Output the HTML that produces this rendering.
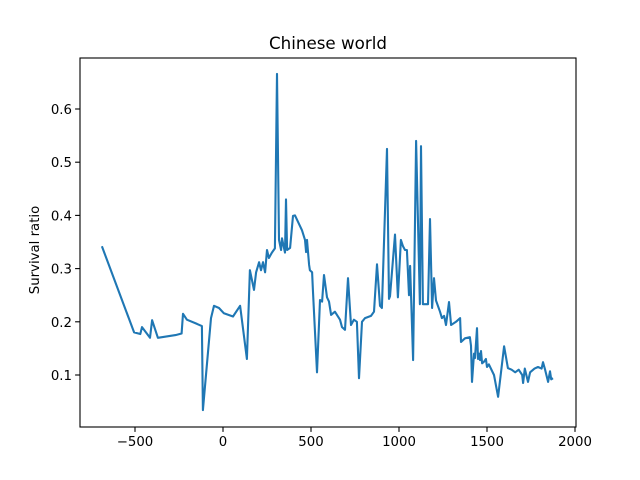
<!DOCTYPE html>
<html><head><meta charset="utf-8"><style>
body{margin:0;background:#fff;}
svg{display:block;font-family:"DejaVu Sans","Liberation Sans",sans-serif;}
</style></head><body>
<svg id="chart" width="640" height="480"></svg>
<script>
const years=[-688,-505,-470,-460,-415,-403,-370,-270,-235,-227,-205,-148,-120,-114,-68,-51,-23,5,57,97,136,153,176,188,205,216,227,239,250,261,278,295,307,318,330,335,352,358,364,381,398,409,449,466,472,477,489,494,506,511,534,551,563,574,591,602,614,636,665,676,693,710,727,744,761,773,790,807,841,858,875,892,903,932,943,949,977,994,1011,1023,1034,1045,1057,1063,1080,1085,1097,1119,1125,1136,1165,1176,1188,1199,1210,1233,1244,1256,1267,1284,1296,1324,1347,1352,1375,1403,1409,1415,1426,1432,1443,1449,1455,1460,1466,1472,1483,1494,1500,1511,1540,1563,1597,1619,1640,1660,1680,1700,1705,1715,1733,1745,1770,1790,1810,1818,1830,1847,1858,1865,1875];
const ratios=[0.342,0.18,0.177,0.19,0.17,0.203,0.17,0.175,0.178,0.215,0.204,0.196,0.192,0.034,0.207,0.23,0.226,0.216,0.21,0.23,0.13,0.297,0.26,0.293,0.312,0.297,0.312,0.293,0.335,0.32,0.33,0.338,0.666,0.354,0.335,0.357,0.33,0.43,0.335,0.339,0.399,0.40,0.372,0.354,0.331,0.354,0.307,0.297,0.293,0.26,0.105,0.241,0.238,0.288,0.246,0.238,0.213,0.219,0.204,0.19,0.185,0.282,0.194,0.204,0.2,0.094,0.2,0.207,0.211,0.219,0.308,0.23,0.226,0.525,0.243,0.248,0.364,0.246,0.354,0.342,0.335,0.335,0.25,0.305,0.128,0.25,0.54,0.233,0.53,0.233,0.233,0.393,0.226,0.282,0.24,0.219,0.207,0.211,0.194,0.237,0.194,0.2,0.207,0.162,0.169,0.171,0.155,0.087,0.14,0.132,0.188,0.13,0.14,0.128,0.145,0.122,0.125,0.13,0.115,0.12,0.10,0.059,0.154,0.113,0.11,0.105,0.11,0.1,0.085,0.112,0.087,0.105,0.112,0.115,0.112,0.124,0.11,0.087,0.107,0.092,0.094];
const xTicks=[-500,0,500,1000,1500,2000];
const yTicks=[0.1,0.2,0.3,0.4,0.5,0.6];
const NS='http://www.w3.org/2000/svg';
const svg=document.getElementById('chart');
const L=80,R=576,T=58,B=427;
const sx=v=>223+v*0.176;
const sy=v=>428.2-v*532;
function mk(tag,attrs,parent){const e=document.createElementNS(NS,tag);for(const k in attrs)e.setAttribute(k,attrs[k]);(parent||svg).appendChild(e);return e;}
const title=mk('text',{x:328,y:49,'text-anchor':'middle','font-size':16.7});
title.textContent='Chinese world';


const line=mk('polyline',{points:years.map((y,i)=>sx(y).toFixed(1)+','+sy(ratios[i]).toFixed(1)).join(' '),fill:'none',stroke:'#1f77b4','stroke-width':2.1,'stroke-linejoin':'round'});


const frame=mk('rect',{x:L,y:T,width:R-L,height:B-T,fill:'none',stroke:'#000','stroke-width':1.1});


xTicks.forEach(t=>{const x=sx(t);
 const tk=mk('line',{x1:x,x2:x,y1:B,y2:B+4.9,stroke:'#000','stroke-width':1.1});
 
 
 const lb=mk('text',{x:x,y:B+19,'text-anchor':'middle','font-size':13.3});
 lb.textContent=t<0?'\u2212'+(-t):String(t);
 
 
});
yTicks.forEach(t=>{const y=sy(t);
 const tk=mk('line',{x1:L-4.9,x2:L,y1:y,y2:y,stroke:'#000','stroke-width':1.1});
 
 
 const lb=mk('text',{x:L-8,y:y+5,'text-anchor':'end','font-size':13.3});
 lb.textContent=t.toFixed(1);
 
 
});
const yt=mk('text',{x:0,y:0,'text-anchor':'middle','font-size':13.3,transform:'translate(39,250) rotate(-90)'});
yt.textContent='Survival ratio';


</script>
</body></html>
